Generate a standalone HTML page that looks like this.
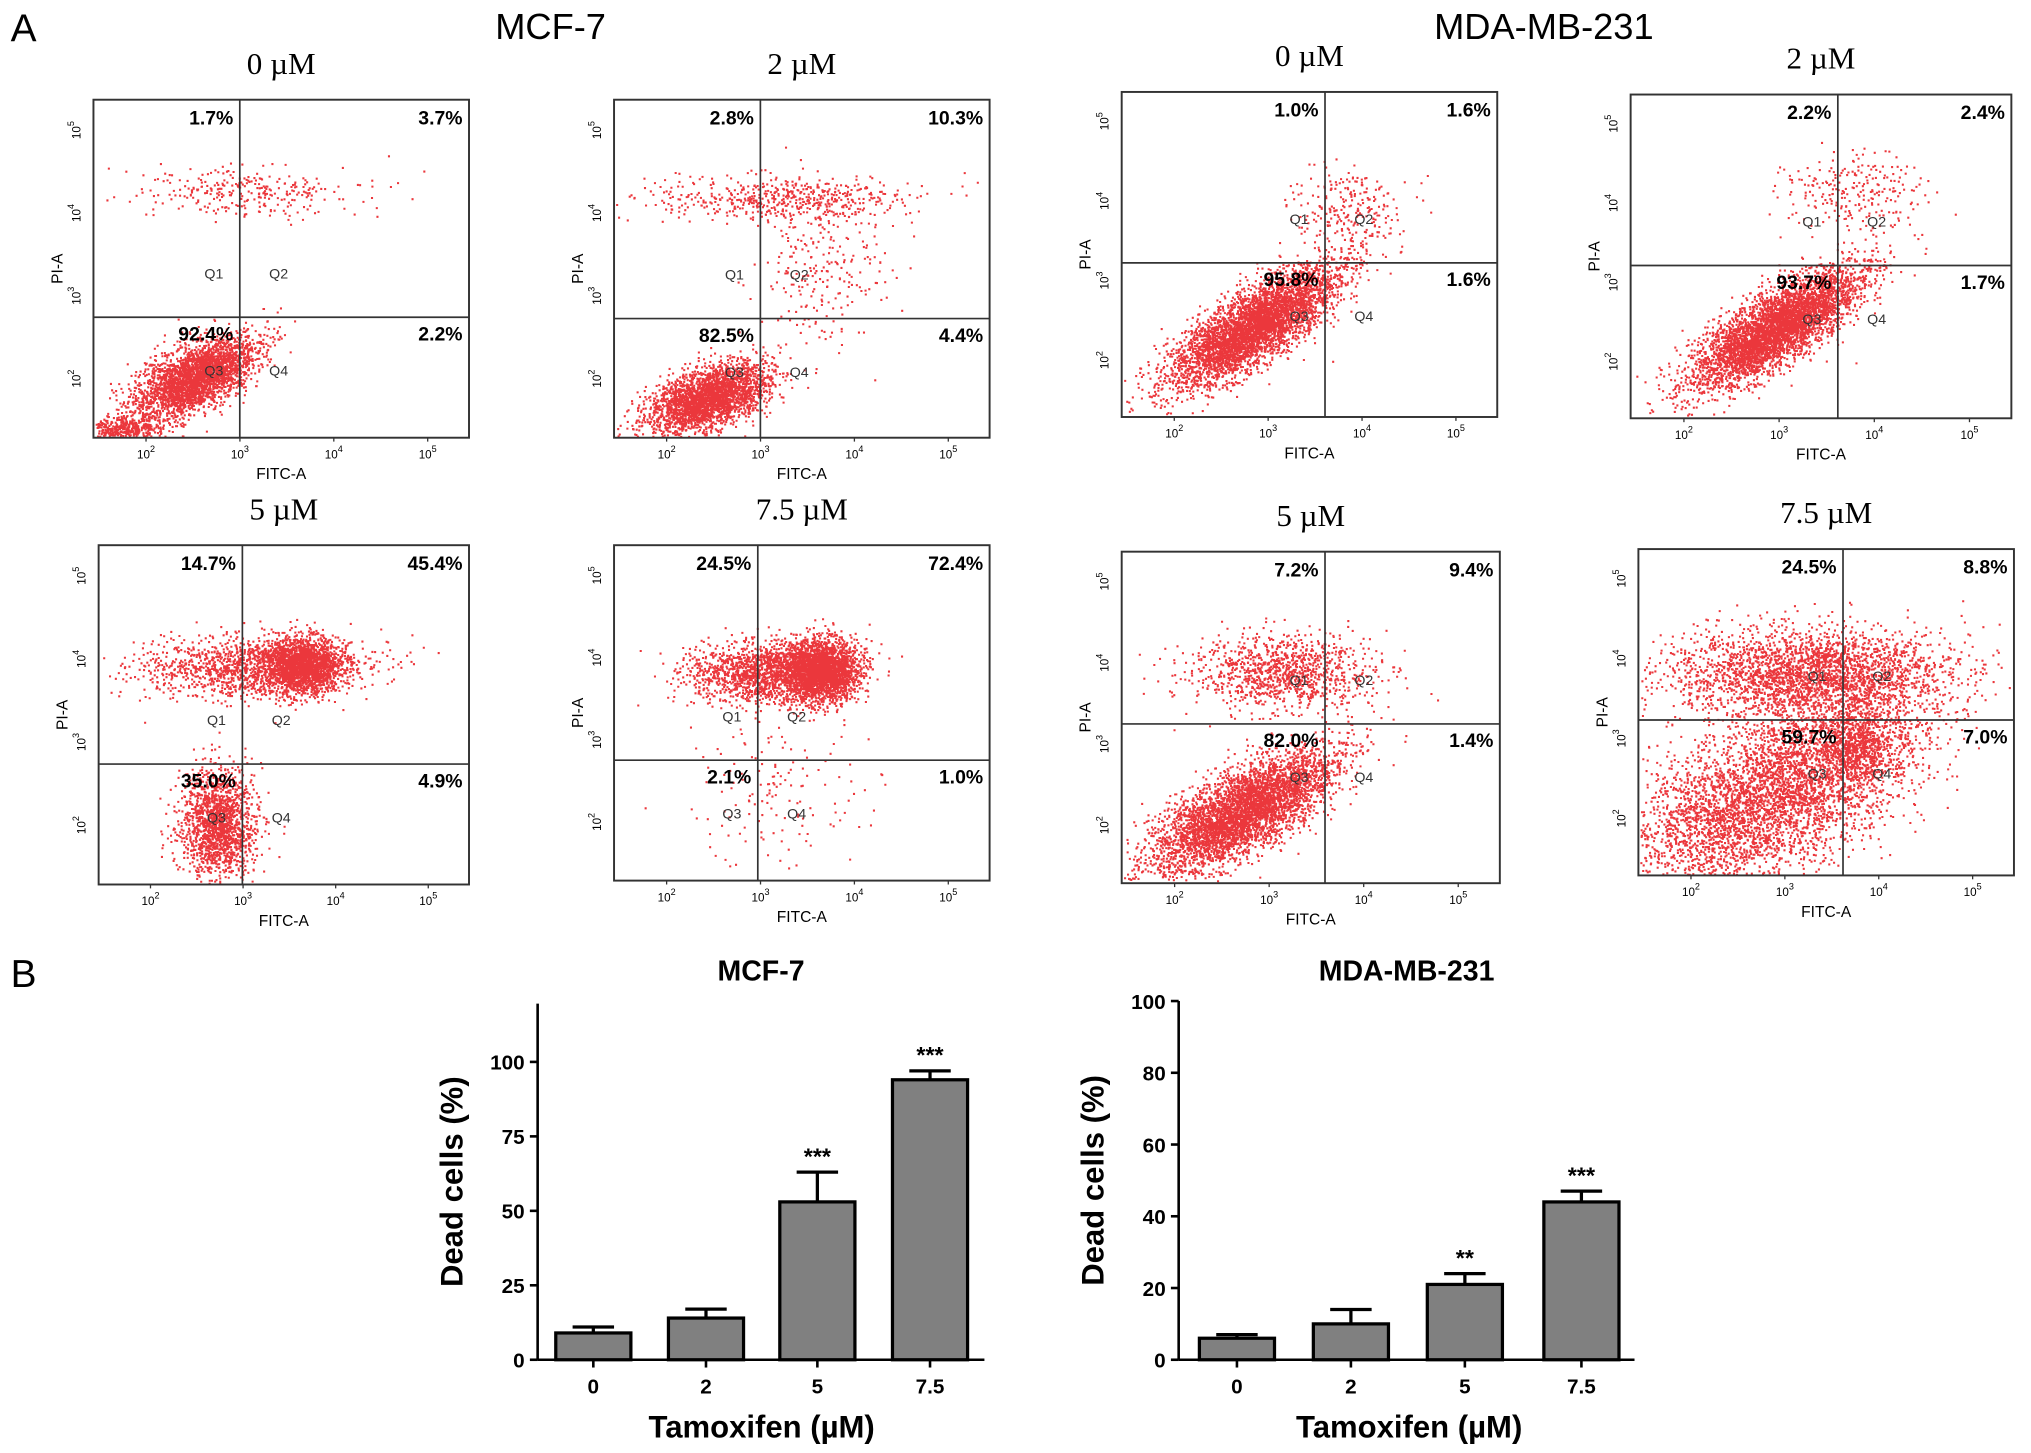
<!DOCTYPE html>
<html><head><meta charset="utf-8"><style>
html,body{margin:0;padding:0;background:#fff}
svg{display:block}
text{font-family:"Liberation Sans",sans-serif}
text.serif{font-family:"Liberation Serif",serif}
</style></head><body>
<svg id="fig" width="2031" height="1453" viewBox="0 0 1568 1122" xmlns="http://www.w3.org/2000/svg">
<text x="8" y="32" font-size="30">A</text>
<text x="8" y="762" font-size="30">B</text>
<text x="425" y="30" font-size="28" text-anchor="middle">MCF-7</text>
<text x="1192" y="30" font-size="28" text-anchor="middle">MDA-MB-231</text>
<g id="flow"></g>
<g id="bars"></g>
</svg>
<script>
const NS="http://www.w3.org/2000/svg";
function mk(tag,attrs,parent,txt){const e=document.createElementNS(NS,tag);for(const k in attrs)e.setAttribute(k,attrs[k]);if(txt!==undefined)e.textContent=txt;parent.appendChild(e);return e;}
const panelTitles=["0 µM","2 µM","0 µM","2 µM","5 µM","7.5 µM","5 µM","7.5 µM"];
const panelBoxes=[[72,77,362,338],[474,77,764,338],[866,71,1156,322],[1259,73,1553,323],[76,421,362,683],[474,421,764,680],[866,426,1158,682],[1265,424,1555,676]];
const dividers=[[185,245],[587,246],[1023,203],[1419,205],[187,590],[585,587],[1023,559],[1423,556]];
const quadUL=["1.7%","2.8%","1.0%","2.2%","14.7%","24.5%","7.2%","24.5%"];
const quadUR=["3.7%","10.3%","1.6%","2.4%","45.4%","72.4%","9.4%","8.8%"];
const quadLL=["92.4%","82.5%","95.8%","93.7%","35.0%","2.1%","82.0%","59.7%"];
const quadLR=["2.2%","4.4%","1.6%","1.7%","4.9%","1.0%","1.4%","7.0%"];
const clusters=[
 [[0.27,0.82,0.08,0.06,3000,0.6],[0.40,0.27,0.15,0.035,300,0],[0.08,0.97,0.05,0.02,400,0]],
 [[0.25,0.88,0.08,0.05,2800,0.5],[0.45,0.29,0.17,0.035,550,0],[0.55,0.5,0.09,0.12,250,0]],
 [[0.35,0.72,0.11,0.09,4500,0.78],[0.6,0.35,0.07,0.07,250,0]],
 [[0.38,0.72,0.11,0.09,4500,0.78],[0.58,0.3,0.09,0.06,250,0]],
 [[0.42,0.36,0.15,0.045,1500,0],[0.55,0.35,0.05,0.04,1800,0],[0.32,0.82,0.05,0.08,1700,0]],
 [[0.4,0.38,0.1,0.045,1600,0],[0.55,0.37,0.05,0.045,2500,0],[0.45,0.75,0.12,0.12,150,0]],
 [[0.42,0.36,0.12,0.055,1100,0],[0.32,0.78,0.12,0.09,4500,0.72]],
 [[0.45,0.38,0.18,0.07,2800,0],[0.35,0.75,0.2,0.15,4800,0.6],[0.58,0.6,0.05,0.05,600,0]]
];
let seed=12345;function rnd(){seed=(seed*1103515245+12345)%2147483648;return seed/2147483648;}
function gauss(){let u=rnd()||1e-6,v=rnd();return Math.sqrt(-2*Math.log(u))*Math.cos(2*Math.PI*v);}
const flow=document.getElementById('flow');
function sup(parent,x,y,exp,rot){const g=mk('g',{transform:rot?`translate(${x},${y}) rotate(-90)`:`translate(${x},${y})`},parent);
 const t=mk('text',{x:0,y:0,'font-size':9,'text-anchor':'middle'},g);t.textContent='10';mk('tspan',{dy:-5,'font-size':7},t,exp);}
panelBoxes.forEach((b,i)=>{
 const [x0,y0,x1,y1]=b,w=x1-x0,h=y1-y0;
 const g=mk('g',{},flow);
 
 
 const t=mk('text',{x:(x0+x1)/2,y:y0-20,'font-size':24,'text-anchor':'middle',class:'serif'},g,panelTitles[i]);
 
 
 let d='';
 clusters[i].forEach(c=>{const [cx,cy,sx,sy,n,r]=c;for(let k=0;k<n;k++){const a=gauss(),bb=gauss();let px=cx+sx*a,py=cy+sy*(r*(-a)+Math.sqrt(1-r*r)*bb);
  if(px<0.005||px>0.995||py<0.005||py>0.995)continue;const X=x0+px*w,Y=y0+py*h;d+=`M${X.toFixed(1)} ${Y.toFixed(1)}h1.6v1.6h-1.6z`;}});
 mk('path',{d:d,fill:'#e8141a','fill-opacity':0.85},g);
 mk('rect',{x:x0,y:y0,width:w,height:h,fill:'none',stroke:'#333','stroke-width':1.5},g);
 const [vx,hy]=dividers[i];
 mk('line',{x1:vx,y1:y0,x2:vx,y2:y1,stroke:'#333','stroke-width':1.3},g);
 mk('line',{x1:x0,y1:hy,x2:x1,y2:hy,stroke:'#333','stroke-width':1.3},g);
 mk('text',{x:vx-5,y:y0+19,'font-size':15,'font-weight':'bold','text-anchor':'end'},g,quadUL[i]);
 mk('text',{x:x1-5,y:y0+19,'font-size':15,'font-weight':'bold','text-anchor':'end'},g,quadUR[i]);
 mk('text',{x:vx-5,y:hy+18,'font-size':15,'font-weight':'bold','text-anchor':'end'},g,quadLL[i]);
 mk('text',{x:x1-5,y:hy+18,'font-size':15,'font-weight':'bold','text-anchor':'end'},g,quadLR[i]);
 [['Q1',vx-20,hy-30],['Q2',vx+30,hy-30],['Q3',vx-20,hy+45],['Q4',vx+30,hy+45]].forEach(q=>mk('text',{x:q[1],y:q[2],'font-size':11,'text-anchor':'middle',fill:'#333'},g,q[0]));
 [2,3,4,5].forEach((e,k)=>{const tx=x0+(0.14+0.25*k)*w;sup(g,tx,y1+16,e,false);mk('line',{x1:tx,y1:y1,x2:tx,y2:y1+3,stroke:'#333'},g);});
 [5,4,3,2].forEach((e,k)=>{const ty=y0+(0.09+0.245*k)*h;sup(g,x0-10,ty,e,true);});
 mk('text',{x:x0+0.5*w,y:y1+32,'font-size':12,'text-anchor':'middle'},g,'FITC-A');
 mk('text',{x:0,y:0,'font-size':12,'text-anchor':'middle',transform:`translate(${x0-24},${y0+0.5*h}) rotate(-90)`},g,'PI-A');
});
const doses=["0","2","5","7.5"];
const mcfValues=[9,14,53,94];
const mcfErrors=[2,3,10,3];
const mcfStars=["","","***","***"];
const mcfTicks=[0,25,50,75,100];
const mdaValues=[6,10,21,44];
const mdaErrors=[1,4,3,3];
const mdaStars=["","","**","***"];
const mdaTicks=[0,20,40,60,80,100];
const bars=document.getElementById('bars');
function barChart(name,title,ax,axRight,y0px,pxPerUnit,topY,centers,vals,errs,stars,ticks){
 const g=mk('g',{},bars);
 
 
 const ys=v=>y0px-v*pxPerUnit;
 mk('text',{x:(ax+axRight)/2,y:757,'font-size':22,'font-weight':'bold','text-anchor':'middle'},g,title);
 mk('line',{x1:ax,y1:topY,x2:ax,y2:y0px,stroke:'#000','stroke-width':2},g);
 mk('line',{x1:ax,y1:y0px,x2:axRight,y2:y0px,stroke:'#000','stroke-width':2},g);
 ticks.forEach(t=>{mk('line',{x1:ax-6,y1:ys(t),x2:ax,y2:ys(t),stroke:'#000','stroke-width':2},g);
  mk('text',{x:ax-10,y:ys(t)+6,'font-size':16,'font-weight':'bold','text-anchor':'end'},g,String(t));});
 vals.forEach((v,i)=>{const cx=centers[i];
  const r=mk('rect',{x:cx-29,y:ys(v),width:58,height:v*pxPerUnit,fill:'#808080',stroke:'#000','stroke-width':2.5},g);
  
  
  const te=ys(v+errs[i]);
  mk('line',{x1:cx,y1:ys(v),x2:cx,y2:te,stroke:'#000','stroke-width':2.5},g);
  mk('line',{x1:cx-16,y1:te,x2:cx+16,y2:te,stroke:'#000','stroke-width':2.5},g);
  if(stars[i])mk('text',{x:cx,y:te-6,'font-size':18,'font-weight':'bold','text-anchor':'middle'},g,stars[i]);
  mk('line',{x1:cx,y1:y0px,x2:cx,y2:y0px+6,stroke:'#000','stroke-width':2},g);
  mk('text',{x:cx,y:y0px+26,'font-size':16,'font-weight':'bold','text-anchor':'middle'},g,doses[i]);});
 mk('text',{x:0,y:0,'font-size':24,'font-weight':'bold','text-anchor':'middle',transform:`translate(${ax-58},${(topY+y0px)/2}) rotate(-90)`},g,'Dead cells (%)');
 mk('text',{x:(centers[0]+centers[3])/2,y:y0px+60,'font-size':24,'font-weight':'bold','text-anchor':'middle'},g,'Tamoxifen (µM)');
}
barChart('mcf7-bar-chart','MCF-7',415,760,1050,2.3,775,[458,545,631,718],mcfValues,mcfErrors,mcfStars,mcfTicks);
barChart('mda-bar-chart','MDA-MB-231',910,1262,1050,2.77,773,[955,1043,1131,1221],mdaValues,mdaErrors,mdaStars,mdaTicks);
</script>
</body></html>
